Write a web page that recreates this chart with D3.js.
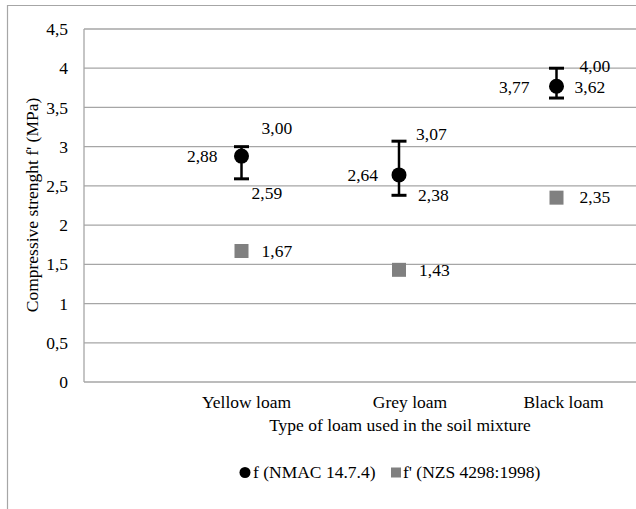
<!DOCTYPE html>
<html><head><meta charset="utf-8">
<script src="https://cdn.jsdelivr.net/npm/d3@7"></script>
<style>body{margin:0;background:#fff}svg{display:block}svg text{font-family:'Liberation Serif','Times New Roman','DejaVu Serif',serif !important;fill:#000}</style>
</head><body><div id="c"></div>
<script>
const categories = ["Yellow loam", "Grey loam", "Black loam"];
const fValues = [2.88, 2.64, 3.77];
const fLow = [2.59, 2.38, 3.62];
const fHigh = [3.00, 3.07, 4.00];
const fpValues = [1.67, 1.43, 2.35];
const yTicks = [0, 0.5, 1, 1.5, 2, 2.5, 3, 3.5, 4, 4.5];
const seriesNames = ["f (NMAC 14.7.4)", "f' (NZS 4298:1998)"];

// layout (label nudges, px)
const catLabelDx = [5, 11, 7];
const lblMid = [[-24, 6], [-21, 6], [-27, 7]];
const lblHigh = [[20, -13], [17, -1], [23, 4]];
const lblLow = [[10, 20], [19, 6], [18, -5]];
const lblSq = [[20, 6], [20, 6], [23, 5]];

const W = 636, H = 509;
const FF = "'Liberation Serif','Times New Roman','DejaVu Serif',serif";
const fmt = v => d3.format(".2f")(v).replace(".", ",");
const fmtTick = v => String(v).replace(".", ",");
const svg = d3.select("#c").append("svg").attr("width", W).attr("height", H).attr("font-family", FF);
const FS = 17.5;

// outer frame
svg.append("path").attr("d", `M7.5,${H} V5.5 H${W}`).attr("fill", "none").attr("stroke", "#a6a6a6").attr("stroke-width", 1.2);

const x = d3.scaleLinear().domain([0, 4]).range([84, 714]);
const y = d3.scaleLinear().domain([0, 4.5]).range([382, 29]);

// grid
svg.append("g").selectAll("line").data(yTicks).join("line")
  .attr("x1", 84).attr("x2", W).attr("y1", d => y(d)).attr("y2", d => y(d))
  .attr("stroke", "#a6a6a6").attr("stroke-width", 1.3);
// left axis line
svg.append("line").attr("x1", 84).attr("x2", 84).attr("y1", y(4.5)).attr("y2", y(0)).attr("stroke", "#a6a6a6").attr("stroke-width", 1.3);

// y axis labels via d3 axis
const yAxis = svg.append("g").attr("transform", "translate(84,0)")
  .call(d3.axisLeft(y).tickValues(yTicks).tickFormat(fmtTick).tickSize(0).tickPadding(16));
yAxis.attr("font-family", FF).attr("font-size", FS);
yAxis.select(".domain").remove();
yAxis.selectAll("text").attr("font-size", FS).attr("font-family", FF).attr("fill", "#000").attr("dy", "0.32em");

// category labels
svg.append("g").selectAll("text").data(categories).join("text")
  .attr("x", (d, i) => x(i + 1) + catLabelDx[i]).attr("y", 408)
  .attr("text-anchor", "middle").attr("font-size", FS).text(d => d);

// axis titles
svg.append("text").attr("x", 400).attr("y", 431).attr("text-anchor", "middle").attr("font-size", FS)
  .text("Type of loam used in the soil mixture");
svg.append("text").attr("transform", "translate(38,205) rotate(-90)").attr("text-anchor", "middle").attr("font-size", FS)
  .text("Compressive strenght f' (MPa)");

// error bars
const eb = svg.append("g");
categories.forEach((c, i) => {
  const cx = x(i + 1);
  eb.append("line").attr("x1", cx).attr("x2", cx).attr("y1", y(fHigh[i])).attr("y2", y(fLow[i])).attr("stroke", "#000").attr("stroke-width", 2.5);
  [fHigh[i], fLow[i]].forEach(v => {
    eb.append("line").attr("x1", cx - 7.5).attr("x2", cx + 7.5).attr("y1", y(v)).attr("y2", y(v)).attr("stroke", "#000").attr("stroke-width", 3);
  });
});

// f' squares
svg.append("g").selectAll("rect").data(fpValues).join("rect")
  .attr("x", (d, i) => x(i + 1) - 7).attr("y", d => y(d) - 7).attr("width", 14).attr("height", 14).attr("fill", "#808080");

// f circles
svg.append("g").selectAll("circle").data(fValues).join("circle")
  .attr("cx", (d, i) => x(i + 1)).attr("cy", d => y(d)).attr("r", 7.5).attr("fill", "#000");

// data labels
const lg = svg.append("g").attr("font-size", FS);
categories.forEach((c, i) => {
  const cx = x(i + 1);
  lg.append("text").attr("x", cx + lblMid[i][0]).attr("y", y(fValues[i]) + lblMid[i][1]).attr("text-anchor", "end").text(fmt(fValues[i]));
  lg.append("text").attr("x", cx + lblHigh[i][0]).attr("y", y(fHigh[i]) + lblHigh[i][1]).text(fmt(fHigh[i]));
  lg.append("text").attr("x", cx + lblLow[i][0]).attr("y", y(fLow[i]) + lblLow[i][1]).text(fmt(fLow[i]));
  lg.append("text").attr("x", cx + lblSq[i][0]).attr("y", y(fpValues[i]) + lblSq[i][1]).text(fmt(fpValues[i]));
});

// legend
const leg = svg.append("g");
leg.append("circle").attr("cx", 245).attr("cy", 472.5).attr("r", 5.5).attr("fill", "#000");
leg.append("text").attr("x", 253).attr("y", 478).attr("font-size", FS).text(seriesNames[0]);
leg.append("rect").attr("x", 391).attr("y", 467.5).attr("width", 10).attr("height", 10).attr("fill", "#808080");
leg.append("text").attr("x", 403).attr("y", 478).attr("font-size", FS).text(seriesNames[1]);
</script></body></html>
